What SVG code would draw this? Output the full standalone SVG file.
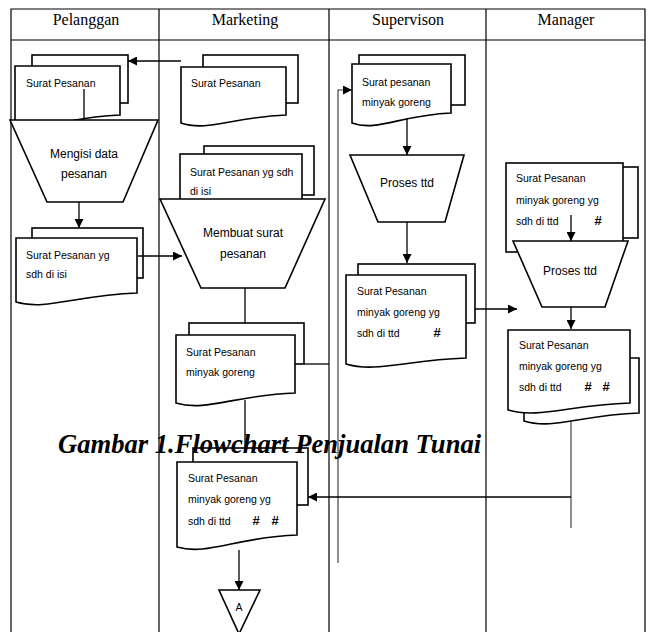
<svg xmlns="http://www.w3.org/2000/svg" width="649" height="632" viewBox="0 0 649 632">
<style>
.frame{fill:none;stroke:#000;stroke-width:1.2}
.shape{fill:#fff;stroke:#000;stroke-width:1.6}
.conn{fill:none;stroke:#000;stroke-width:1.3}
.thin{fill:none;stroke:#333;stroke-width:1.1}
.hdr{font-family:"Liberation Serif",serif;font-size:16px;fill:#000;text-anchor:middle}
.doc{font-family:"Liberation Sans",Arial,sans-serif;font-size:10.5px;fill:#000}
.proc{font-family:"Liberation Sans",Arial,sans-serif;font-size:12px;fill:#000;text-anchor:middle}
.hash{font-family:"Liberation Sans",Arial,sans-serif;font-size:13px;font-weight:bold;fill:#000;text-anchor:middle}
.cap{font-family:"Liberation Serif",serif;font-size:26.6px;font-weight:bold;font-style:italic;fill:#000}
</style>
<defs>
<marker id="ah" viewBox="0 0 10 10" refX="10" refY="5" markerWidth="9" markerHeight="9" markerUnits="userSpaceOnUse" orient="auto"><path d="M0,0 L10,5 L0,10 z" fill="#000"/></marker>
</defs>
<rect x="0" y="0" width="649" height="632" fill="#fff"/>
<g id="frame">
<path class="frame" d="M11,640 V9 H645 V640 M11,40 H645 M159,9 V640 M329,9 V640 M486,9 V640"/>
<text class="hdr" x="86" y="25">Pelanggan</text>
<text class="hdr" x="245" y="25">Marketing</text>
<text class="hdr" x="408" y="25">Supervison</text>
<text class="hdr" x="566" y="25">Manager</text>
</g>
<g id="pel-doc1">
<rect class="shape" x="32" y="55" width="96" height="48"/>
<path class="shape" d="M15,66 H120 V115 C67.5,117 41.25,132 15,123 Z"/>
<text class="doc" x="26" y="87">Surat Pesanan</text>
</g>
<g id="pel-proc">
<polygon class="shape" points="10,120 158,120 123,202 47,202"/>
<text class="proc" x="84" y="158">Mengisi data</text>
<text class="proc" x="84" y="178">pesanan</text>
</g>
<g id="pel-doc2">
<rect class="shape" x="32" y="228" width="111" height="50"/>
<path class="shape" d="M16,238 H137 V293 C76.5,295 46.25,311 16,302 Z"/>
<text class="doc" x="26" y="259">Surat Pesanan  yg</text>
<text class="doc" x="26" y="278">sdh di isi</text>
</g>
<g id="mkt-doc1">
<rect class="shape" x="203" y="55" width="95" height="48"/>
<path class="shape" d="M181,67 H286 V115 C233.5,117 207.25,132 181,123 Z"/>
<text class="doc" x="191" y="87">Surat Pesanan</text>
</g>
<g id="mkt-doc2">
<rect class="shape" x="204" y="146" width="110" height="49"/>
<rect class="shape" x="180" y="154" width="122" height="52"/>
<text class="doc" x="190" y="176">Surat Pesanan yg sdh</text>
<text class="doc" x="190" y="195">di isi</text>
</g>
<g id="mkt-proc">
<polygon class="shape" points="160,199 325,199 285,288 201,288"/>
<text class="proc" x="243" y="237">Membuat surat</text>
<text class="proc" x="243" y="258">pesanan</text>
</g>
<g id="mkt-doc3">
<rect class="shape" x="189" y="323" width="115" height="41"/>
<path class="shape" d="M176,335 H295 V393 C235.5,395 205.75,412 176,403 Z"/>
<text class="doc" x="186" y="356">Surat Pesanan</text>
<text class="doc" x="186" y="376">minyak goreng</text>
</g>
<g id="mkt-doc4">
<rect class="shape" x="193" y="448" width="115" height="57"/>
<path class="shape" d="M177,462 H297 V535 C237,537 207,556 177,547 Z"/>
<text class="doc" x="188" y="482">Surat Pesanan</text>
<text class="doc" x="188" y="503">minyak goreng yg</text>
<text class="doc" x="188" y="525">sdh di ttd</text>
<text class="hash" x="256" y="525">#</text>
<text class="hash" x="275" y="525">#</text>
</g>
<g id="mkt-conn-a">
<polygon class="shape" points="219,590 260,590 239,634"/>
<text class="doc" x="239" y="611" text-anchor="middle">A</text>
</g>
<g id="sup-doc1">
<rect class="shape" x="359" y="55" width="106" height="50"/>
<path class="shape" d="M352,64 H451 V113 C401.5,115 376.75,132 352,123 Z"/>
<text class="doc" x="362" y="86">Surat pesanan</text>
<text class="doc" x="362" y="106">minyak goreng</text>
</g>
<g id="sup-proc">
<polygon class="shape" points="350,155 464,155 445,222 378,222"/>
<text class="proc" x="407" y="187">Proses ttd</text>
</g>
<g id="sup-doc2">
<rect class="shape" x="358" y="264" width="117" height="59"/>
<path class="shape" d="M346,275 H466 V358 C406,360 376,373 346,364 Z"/>
<text class="doc" x="357" y="295">Surat Pesanan</text>
<text class="doc" x="357" y="316">minyak goreng yg</text>
<text class="doc" x="357" y="337">sdh di ttd</text>
<text class="hash" x="437" y="337">#</text>
</g>
<g id="mgr-doc1">
<rect class="shape" x="520" y="167" width="118" height="71"/>
<rect class="shape" x="506" y="163" width="117" height="89"/>
<text class="doc" x="516" y="182">Surat Pesanan</text>
<text class="doc" x="516" y="204">minyak goreng yg</text>
<text class="doc" x="516" y="225">sdh di ttd</text>
<text class="hash" x="598" y="225">#</text>
</g>
<g id="mgr-proc">
<polygon class="shape" points="513,241 628,241 605,307 542,307"/>
<text class="proc" x="570" y="275">Proses ttd</text>
</g>
<g id="mgr-doc2">
<path class="shape" d="M524,358 H639 V413 C581.5,415 552.75,430 524,421 Z"/>
<path class="shape" d="M508,330 H630 V403 C569,405 538.5,419 508,410 Z"/>
<text class="doc" x="519" y="349">Surat Pesanan</text>
<text class="doc" x="519" y="370">minyak goreng yg</text>
<text class="doc" x="519" y="391">sdh di ttd</text>
<text class="hash" x="588" y="391">#</text>
<text class="hash" x="606" y="391">#</text>
</g>
<g id="connectors">
<path class="conn" d="M181,61 H128" marker-end="url(#ah)"/>
<path class="conn" d="M84,89 V120"/>
<path class="conn" d="M79,202 V228" marker-end="url(#ah)"/>
<path class="conn" d="M138,256 H182" marker-end="url(#ah)"/>
<path class="conn" d="M245,288 V323"/>
<path class="conn" d="M304,364 H329"/>
<path class="thin" d="M338,563 V90 H352" marker-end="url(#ah)"/>
<path class="conn" d="M245,400 V448"/>
<path class="conn" d="M407,118 V155" marker-end="url(#ah)"/>
<path class="conn" d="M407,222 V263" marker-end="url(#ah)"/>
<path class="conn" d="M475,309 H517" marker-end="url(#ah)"/>
<path class="conn" d="M571,215 V241" marker-end="url(#ah)"/>
<path class="conn" d="M571,307 V329" marker-end="url(#ah)"/>
<path class="thin" d="M571,422 V528"/>
<path class="conn" d="M571,497 H308" marker-end="url(#ah)"/>
<path class="conn" d="M239,550 V590" marker-end="url(#ah)"/>
</g>
<text class="cap" x="58" y="453">Gambar 1.Flowchart Penjualan Tunai</text>
</svg>
